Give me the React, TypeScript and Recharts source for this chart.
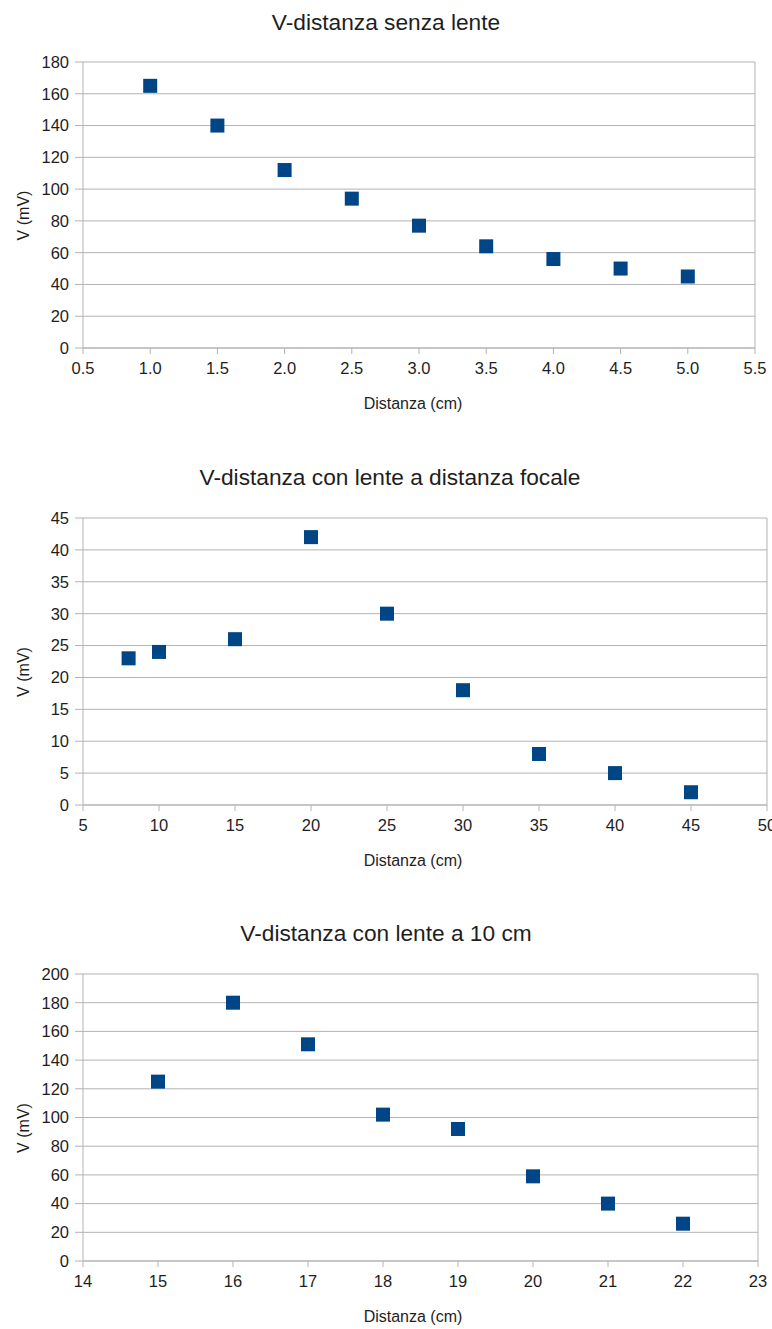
import React from 'react';
import { ScatterChart, Scatter, XAxis, YAxis, CartesianGrid, ReferenceLine, Label } from 'recharts';

// V-distanza senza lente
const distSenzaLente = [1.0, 1.5, 2.0, 2.5, 3.0, 3.5, 4.0, 4.5, 5.0];
const vSenzaLente = [165, 140, 112, 94, 77, 64, 56, 50, 45];
const xTicksSenzaLente = [0.5, 1.0, 1.5, 2.0, 2.5, 3.0, 3.5, 4.0, 4.5, 5.0, 5.5];
const yTicksSenzaLente = [0, 20, 40, 60, 80, 100, 120, 140, 160, 180];

// V-distanza con lente a distanza focale
const distFocale = [8, 10, 15, 20, 25, 30, 35, 40, 45];
const vFocale = [23, 24, 26, 42, 30, 18, 8, 5, 2];
const xTicksFocale = [5, 10, 15, 20, 25, 30, 35, 40, 45, 50];
const yTicksFocale = [0, 5, 10, 15, 20, 25, 30, 35, 40, 45];

// V-distanza con lente a 10 cm
const dist10cm = [15, 16, 17, 18, 19, 20, 21, 22];
const v10cm = [125, 180, 151, 102, 92, 59, 40, 26];
const xTicks10cm = [14, 15, 16, 17, 18, 19, 20, 21, 22, 23];
const yTicks10cm = [0, 20, 40, 60, 80, 100, 120, 140, 160, 180, 200];

const GRID = '#b3b3b3';
const TEXT = '#1e1e1e';
const BLUE = '#004586';
const FONT = '"Liberation Sans", Arial, sans-serif';

const Square = (props: any) => (
  <rect x={props.cx - 7} y={props.cy - 7} width={14} height={14} fill={BLUE} />
);

type PanelProps = {
  title: string;
  top: number;
  height: number;
  marginTop: number;
  marginRight: number;
  titleTop: number;
  titleDx: number;
  xLabelDx: number;
  xs: number[];
  ys: number[];
  xTicks: number[];
  yTicks: number[];
  xFormat?: (v: number) => string;
};

function Panel({ title, top, height, marginTop, marginRight, titleTop, titleDx, xLabelDx, xs, ys, xTicks, yTicks, xFormat }: PanelProps) {
  const data = xs.map((x, i) => ({ x, y: ys[i] }));
  const xMin = xTicks[0];
  const xMax = xTicks[xTicks.length - 1];
  const yMax = yTicks[yTicks.length - 1];

  return (
    <div style={{ position: 'absolute', left: 0, top, width: 772, height }}>
      <div
        style={{
          position: 'absolute',
          top: titleTop,
          left: titleDx,
          width: 772,
          textAlign: 'center',
          fontSize: 22.7,
          lineHeight: '22px',
          color: TEXT,
          fontFamily: FONT,
          whiteSpace: 'nowrap',
        }}
      >
        {title}
      </div>
      <ScatterChart
        width={772}
        height={height}
        margin={{ top: marginTop, right: marginRight, bottom: 0, left: 10 }}
        style={{ fontFamily: FONT }}
      >
        <CartesianGrid vertical={false} stroke={GRID} strokeWidth={1} />
        <XAxis
          type="number"
          dataKey="x"
          domain={[xMin, xMax]}
          ticks={xTicks}
          interval={0}
          height={66}
          tickSize={6}
          tickMargin={8}
          stroke={GRID}
          tick={{ fill: TEXT, fontSize: 16.5 }}
          tickFormatter={xFormat}
        >
          <Label
            content={(p: any) => {
              const vb = p.viewBox;
              return (
                <text
                  x={vb.x + vb.width / 2 + xLabelDx}
                  y={vb.y + 61}
                  textAnchor="middle"
                  fontSize={16}
                  fill={TEXT}
                >
                  Distanza (cm)
                </text>
              );
            }}
          />
        </XAxis>
        <YAxis
          type="number"
          dataKey="y"
          domain={[0, yMax]}
          ticks={yTicks}
          interval={0}
          width={73}
          tickSize={8}
          tickMargin={6}
          stroke={GRID}
          tick={{ fill: TEXT, fontSize: 16.5 }}
        >
          <Label
            content={(p: any) => {
              const vb = p.viewBox;
              const cx = vb.x + 13;
              const cy = vb.y + vb.height / 2 + 10.5;
              return (
                <text
                  x={cx}
                  y={cy}
                  transform={`rotate(-90 ${cx} ${cy})`}
                  textAnchor="middle"
                  dominantBaseline="central"
                  fontSize={16}
                  fill={TEXT}
                >
                  V (mV)
                </text>
              );
            }}
          />
        </YAxis>
        <ReferenceLine x={xMax} stroke={GRID} strokeWidth={1} />
        <Scatter data={data} shape={Square} isAnimationActive={false} />
      </ScatterChart>
    </div>
  );
}

export default function App() {
  return (
    <div style={{ position: 'absolute', left: 0, top: 0, width: 772, height: 1329, background: '#fff', overflow: 'hidden' }}>
      <Panel
        title="V-distanza senza lente"
        top={0}
        height={414}
        marginTop={62}
        marginRight={17}
        titleTop={11}
        titleDx={0}
        xLabelDx={-6}
        xs={distSenzaLente}
        ys={vSenzaLente}
        xTicks={xTicksSenzaLente}
        yTicks={yTicksSenzaLente}
        xFormat={(v) => v.toFixed(1)}
      />
      <Panel
        title="V-distanza con lente a distanza focale"
        top={440}
        height={431}
        marginTop={78}
        marginRight={5}
        titleTop={26}
        titleDx={4}
        xLabelDx={-12}
        xs={distFocale}
        ys={vFocale}
        xTicks={xTicksFocale}
        yTicks={yTicksFocale}
      />
      <Panel
        title="V-distanza con lente a 10 cm"
        top={900}
        height={427}
        marginTop={74}
        marginRight={14}
        titleTop={22}
        titleDx={0}
        xLabelDx={-7.5}
        xs={dist10cm}
        ys={v10cm}
        xTicks={xTicks10cm}
        yTicks={yTicks10cm}
      />
    </div>
  );
}
